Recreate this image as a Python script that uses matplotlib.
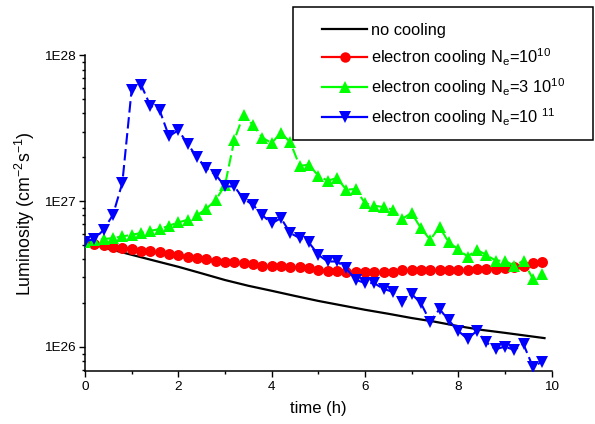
import numpy as np
import matplotlib
matplotlib.use('Agg')
import matplotlib.pyplot as plt
from matplotlib.ticker import LogLocator, FuncFormatter, MultipleLocator, NullFormatter
from matplotlib.lines import Line2D
from matplotlib.patches import Rectangle

plt.rcParams['font.family'] = ['Liberation Sans', 'DejaVu Sans']
plt.rcParams['mathtext.default'] = 'regular'

# ---------------- data ----------------
# no cooling (line only)
t_nocool = [0, 0.5, 1, 1.5, 2, 2.5, 3, 3.5, 4, 4.5, 5, 5.5, 6, 6.5, 7, 7.5, 8, 8.5, 9, 9.5, 9.85]
L_nocool = [5.27, 4.72, 4.29, 3.90, 3.55, 3.20, 2.88, 2.63, 2.43, 2.24, 2.07,
            1.93, 1.80, 1.69, 1.58, 1.49, 1.39, 1.31, 1.25, 1.19, 1.15]  # x 1e26

# time grid of the cooling runs (h)
t_cool = [0.0, 0.2, 0.4, 0.6, 0.8, 1.0, 1.2, 1.4, 1.6, 1.8,
          2.0, 2.2, 2.4, 2.6, 2.8, 3.0, 3.2, 3.4, 3.6, 3.8,
          4.0, 4.2, 4.4, 4.6, 4.8, 5.0, 5.2, 5.4, 5.6, 5.8,
          6.0, 6.2, 6.4, 6.6, 6.8, 7.0, 7.2, 7.4, 7.6, 7.8,
          8.0, 8.2, 8.4, 8.6, 8.8, 9.0, 9.2, 9.4, 9.6, 9.8]

# electron cooling Ne = 1e10  (x 1e26)
L_e10 = [5.27, 5.10, 4.99, 4.89, 4.81, 4.69, 4.57, 4.52, 4.45, 4.36,
         4.29, 4.17, 4.07, 4.00, 3.92, 3.84, 3.80, 3.74, 3.71, 3.61,
         3.59, 3.60, 3.56, 3.51, 3.47, 3.38, 3.33, 3.33, 3.29, 3.29,
         3.26, 3.26, 3.28, 3.27, 3.35, 3.35, 3.35, 3.35, 3.38, 3.38,
         3.38, 3.38, 3.42, 3.42, 3.44, 3.47, 3.53, 3.60, 3.76, 3.82]

# electron cooling Ne = 3e10  (x 1e26)
L_3e10 = [5.29, 5.38, 5.50, 5.59, 5.73, 5.89, 6.05, 6.27, 6.44, 6.79,
          7.15, 7.46, 7.99, 8.88, 10.16, 12.88, 26.3, 39.3, 33.3, 27.3,
          25.1, 29.4, 25.4, 17.5, 17.8, 14.97, 13.83, 14.44, 12.0, 12.13,
          9.72, 9.31, 9.12, 8.74, 7.58, 8.30, 6.54, 5.44, 6.65, 5.21,
          4.69, 4.17, 4.64, 4.29, 3.92, 3.90, 3.62, 3.90, 2.93, 3.16]

# electron cooling Ne = 1e11  (x 1e26)
L_e11 = [5.29, 5.50, 6.37, 8.08, 13.34, 58.4, 63.2, 45.3, 42.1, 27.9,
         30.7, 24.8, 20.0, 16.9, 15.2, 12.64, 12.64, 10.37, 9.46, 8.04,
         7.04, 7.66, 6.05, 5.59, 5.21, 4.29, 3.86, 3.86, 3.47, 2.89,
         2.75, 2.74, 2.50, 2.39, 2.04, 2.31, 2.00, 1.49, 1.82, 1.52,
         1.29, 1.135, 1.29, 1.077, 0.964, 1.005, 0.954, 1.044, 0.732, 0.792]

scale = 1e26
labels = ['no cooling',
          r'electron cooling N$_e$=10$^{10}$',
          r'electron cooling N$_e$=3 10$^{10}$',
          r'electron cooling N$_e$=10 ${}^{11}$']
colors = ['black', '#ff0000', '#00ff00', '#0000ff']
y_ticklabels = {26: '1E26', 27: '1E27', 28: '1E28'}

# ---------------- figure ----------------
W, H = 595, 424
fig = plt.figure(figsize=(W / 100, H / 100), dpi=100)
ax = fig.add_axes([85 / W, 1 - 371 / H, (551.5 - 85) / W, (371 - 55.5) / H])

ax.plot(t_nocool, np.array(L_nocool) * scale, color=colors[0], lw=1.6, zorder=3)
ax.plot(t_cool, np.array(L_e10) * scale, color=colors[1], lw=1.5, marker='o',
        markersize=7.9, markeredgewidth=0, zorder=4)
ax.plot(t_cool, np.array(L_3e10) * scale, color=colors[2], lw=1.5, marker='^',
        markersize=8.6, markeredgewidth=0, dashes=(5.5, 2.2), zorder=5)
ax.plot(t_cool, np.array(L_e11) * scale, color=colors[3], lw=1.5, marker='v',
        markersize=8.6, markeredgewidth=0, dashes=(5.5, 2.2), zorder=6)

ax.set_yscale('log')
ax.set_xlim(0, 10)
ax.set_ylim(6.84e25, 1e28)

ax.xaxis.set_major_locator(MultipleLocator(2))
ax.xaxis.set_minor_locator(MultipleLocator(1))
ax.yaxis.set_major_locator(LogLocator(base=10, numticks=10))
ax.yaxis.set_minor_locator(LogLocator(base=10, subs=range(2, 10), numticks=20))
ax.yaxis.set_major_formatter(FuncFormatter(lambda v, p: y_ticklabels.get(int(round(np.log10(v))), '')))
ax.yaxis.set_minor_formatter(NullFormatter())

ax.tick_params(axis='both', which='major', direction='out', length=4.5, width=1,
               labelsize=9.7, pad=2.5, color='black')
ax.tick_params(axis='both', which='minor', direction='out', length=2.5, width=1, color='black')

for s in ['top', 'right']:
    ax.spines[s].set_visible(False)
for s in ['left', 'bottom']:
    ax.spines[s].set_linewidth(1.1)

ax.set_xlabel('time (h)', fontsize=12, labelpad=6)
ax.set_ylabel(r'Luminosity (cm$^{-2}$s$^{-1}$)', fontsize=12.8, labelpad=5)

# legend
handles = [
    Line2D([], [], color=colors[0], lw=1.6),
    Line2D([], [], color=colors[1], lw=1.6, marker='o', markersize=7.5, markeredgewidth=0),
    Line2D([], [], color=colors[2], lw=1.6, marker='^', markersize=8, markeredgewidth=0),
    Line2D([], [], color=colors[3], lw=1.6, marker='v', markersize=8, markeredgewidth=0),
]
fig.patches.append(Rectangle((293 / W, 1 - 140 / H), (593 - 293) / W, (140 - 7) / H,
                             transform=fig.transFigure, facecolor='white',
                             edgecolor='black', lw=1.1, zorder=10))
leg = fig.legend(handles, labels, loc='upper left', bbox_to_anchor=(322 / W, 1 - 23 / H),
                 frameon=False, fontsize=11.8, handlelength=2.75, handletextpad=0.25,
                 labelspacing=0.5, borderpad=0, borderaxespad=0)
leg.set_zorder(11)

fig.savefig('out.png', dpi=100)
